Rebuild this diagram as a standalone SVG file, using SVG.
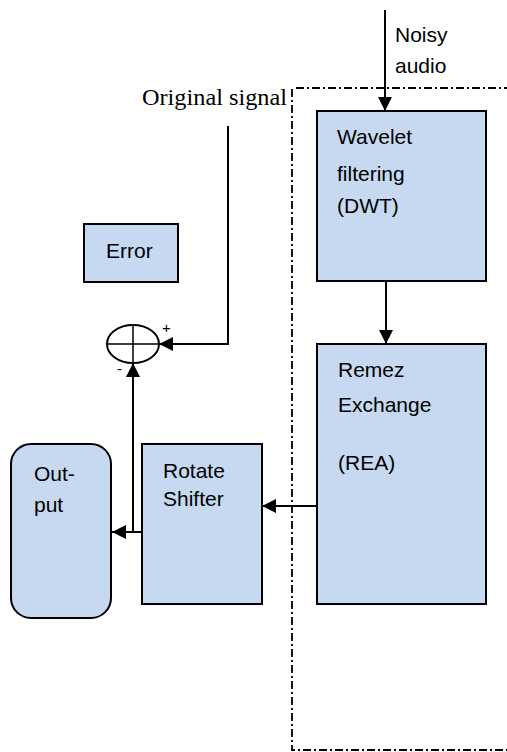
<svg xmlns="http://www.w3.org/2000/svg" width="507" height="752" viewBox="0 0 507 752">
  <style>
    .box { fill: #c6d9f1; stroke: #000; stroke-width: 2; }
    .lbl { font-family: "Liberation Sans", Arial, sans-serif; font-size: 21px; fill: #000; }
    .sign { font-family: "Liberation Sans", Arial, sans-serif; font-size: 15px; fill: #000; }
    .serif { font-family: "Liberation Serif", "Times New Roman", serif; font-size: 24px; fill: #000; }
    .wire { fill: none; stroke: #000; stroke-width: 2; }
    .frame { fill: none; stroke: #000; stroke-width: 1.8; stroke-dasharray: 8 3 2 3; }
  </style>
  <defs>
    <marker id="head" viewBox="0 0 12 12" refX="12" refY="6" markerWidth="14" markerHeight="14" markerUnits="userSpaceOnUse" orient="auto">
      <path d="M0,0 L12,6 L0,12 z" fill="#000"/>
    </marker>
  </defs>

  <!-- dash-dot boundary of the processing block -->
  <g id="frame">
    <path class="frame" d="M292,89 L292,750 L507,750"/>
    <path class="frame" d="M296,88 L507,88"/>
  </g>

  <g id="wavelet">
    <rect class="box" x="317" y="111" width="169" height="170"/>
    <text class="lbl" x="337" y="144">Wavelet</text>
    <text class="lbl" x="337" y="181">filtering</text>
    <text class="lbl" x="337" y="213">(DWT)</text>
  </g>

  <g id="remez">
    <rect class="box" x="317" y="344" width="169" height="260"/>
    <text class="lbl" x="338" y="377">Remez</text>
    <text class="lbl" x="338" y="412">Exchange</text>
    <text class="lbl" x="338" y="470">(REA)</text>
  </g>

  <g id="rotate">
    <rect class="box" x="142" y="444" width="120" height="160"/>
    <text class="lbl" x="163" y="478">Rotate</text>
    <text class="lbl" x="163" y="506">Shifter</text>
  </g>

  <g id="output">
    <rect class="box" x="11" y="444" width="100" height="174" rx="20" ry="20"/>
    <text class="lbl" x="34" y="481">Out-</text>
    <text class="lbl" x="34" y="512">put</text>
  </g>

  <g id="error">
    <rect class="box" x="84" y="224" width="94" height="58"/>
    <text class="lbl" x="106" y="258">Error</text>
  </g>

  <g id="summer">
    <ellipse cx="133" cy="344" rx="26" ry="19" fill="#fff" stroke="#000" stroke-width="2"/>
    <line x1="107" y1="344" x2="159" y2="344" stroke="#000" stroke-width="1.5"/>
    <line x1="133" y1="325" x2="133" y2="363" stroke="#000" stroke-width="1.5"/>
    <text class="sign" x="162" y="333">+</text>
    <text class="sign" x="117" y="374">-</text>
  </g>

  <g id="labels">
    <text class="serif" x="142" y="105" textLength="145" lengthAdjust="spacingAndGlyphs">Original signal</text>
    <text class="lbl" x="395" y="42">Noisy</text>
    <text class="lbl" x="395" y="73">audio</text>
  </g>

  <g id="connectors">
    <path class="wire" d="M385,10 L385,111" marker-end="url(#head)"/>
    <path class="wire" d="M386,281 L386,344" marker-end="url(#head)"/>
    <path class="wire" d="M316,506 L262,506" marker-end="url(#head)"/>
    <path class="wire" d="M142,532 L112,532" marker-end="url(#head)"/>
    <path class="wire" d="M133,532 L133,363" marker-end="url(#head)"/>
    <path class="wire" d="M228,126 L228,344 L159,344" marker-end="url(#head)"/>
  </g>
</svg>
